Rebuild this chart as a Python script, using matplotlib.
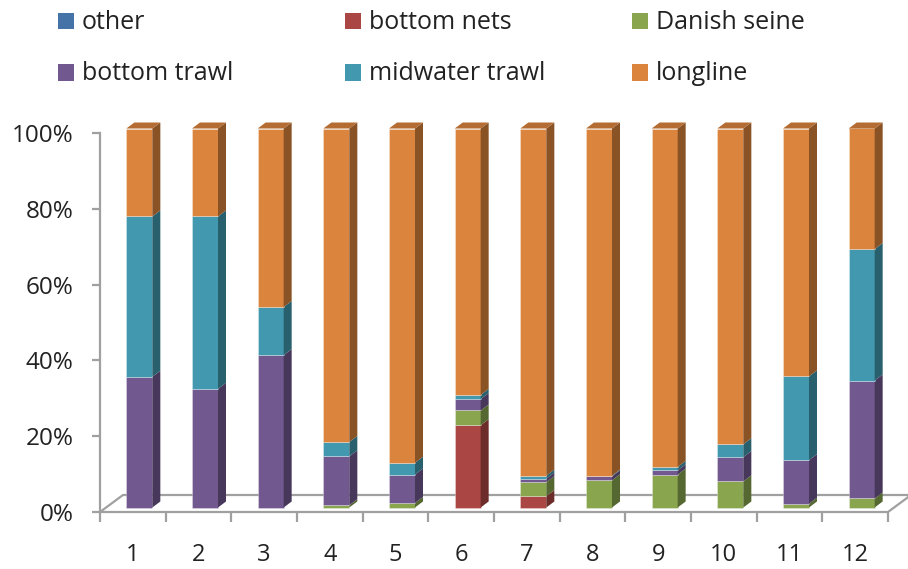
import matplotlib
matplotlib.use("Agg")
import matplotlib.pyplot as plt
from matplotlib.patches import Polygon, Rectangle
import numpy as np

plt.rcParams['font.family'] = ['Open Sans', 'DejaVu Sans']

# ---- data: share of each gear type per month (%) ----
months = ["1", "2", "3", "4", "5", "6", "7", "8", "9", "10", "11", "12"]
series_names = ["other", "bottom nets", "Danish seine", "bottom trawl",
                "midwater trawl", "longline"]
other = [0, 0, 0, 0, 0, 0, 0, 0, 0, 0, 0, 0]
bottom_nets = [0, 0, 0, 0, 0, 21.7, 3.0, 0, 0, 0, 0, 0]
danish_seine = [0, 0, 0, 0.6, 1.2, 3.9, 3.7, 7.2, 8.7, 6.9, 1.0, 2.4]
bottom_trawl = [34.5, 31.3, 40.2, 12.9, 7.5, 3.0, 0.9, 1.0, 1.1, 6.4, 11.5, 31.1]
midwater_trawl = [42.3, 45.5, 12.7, 3.8, 3.1, 1.1, 0.8, 0.2, 0.9, 3.4, 22.1, 34.7]
longline = [23.2, 23.2, 47.1, 82.7, 88.2, 70.3, 91.6, 91.6, 89.3, 83.3, 65.4, 31.8]
yticks = [0, 20, 40, 60, 80, 100]

colors = ["#4572A7", "#AA4643", "#89A54E", "#71588F", "#4198AF", "#DB843D"]

W, H, DPI = 908, 569, 100
fig = plt.figure(figsize=(W / DPI, H / DPI), dpi=DPI)
ax_l, ax_r, ax_top, ax_bot = 100, 888, 133, 512
ax = fig.add_axes([ax_l / W, (H - ax_bot) / H, (ax_r - ax_l) / W, (ax_bot - ax_top) / H])

n = len(months)
x = np.arange(1, n + 1)
ax.set_xlim(0.5, n + 0.5)
ax.set_ylim(0, 100)

# pixel -> data conversion for the pseudo-3D depth offsets
ppx = (ax_r - ax_l) / n
ppy = (ax_bot - ax_top) / 100.0
def dx(p):
    return p / ppx
def dy(p):
    return p / ppy

floor_dx, floor_dy = dx(23), dy(17)
front_dx, front_dy = dx(6.5), dy(4.5)
depth_dx, depth_dy = dx(8), dy(6)
bw = 26 / ppx

grey = "#A0A0A0"

# floor
floor = Polygon([(0.5, 0), (n + 0.5, 0), (n + 0.5 + floor_dx, floor_dy),
                 (0.5 + floor_dx, floor_dy)], closed=True,
                facecolor="white", edgecolor=grey, lw=1.6, clip_on=False, zorder=1)
ax.add_patch(floor)


def shade(c, f):
    r, g, b = matplotlib.colors.to_rgb(c)
    return (r * f, g * f, b * f)


data = [other, bottom_nets, danish_seine, bottom_trawl, midwater_trawl, longline]
bottoms = np.zeros(n)
for name, vals, col in zip(series_names, data, colors):
    vals = np.asarray(vals, dtype=float)
    ax.bar(x + front_dx, vals, width=bw, bottom=bottoms + front_dy, color=col,
           edgecolor=(1, 1, 1, 0.35), linewidth=0.6, label=name, zorder=3,
           clip_on=False)
    side_c = shade(col, 0.63)
    for xi, b, h in zip(x, bottoms, vals):
        if h <= 0:
            continue
        xr = xi + front_dx + bw / 2
        y0 = b + front_dy
        y1 = b + h + front_dy
        ax.add_patch(Polygon([(xr, y0), (xr + depth_dx, y0 + depth_dy),
                              (xr + depth_dx, y1 + depth_dy), (xr, y1)],
                             closed=True, facecolor=side_c, edgecolor="none",
                             zorder=3, clip_on=False))
    bottoms = bottoms + vals

# top faces of the longline segments
top_c = shade(colors[-1], 0.82)
for xi, t in zip(x, bottoms):
    xl = xi + front_dx - bw / 2
    xr = xi + front_dx + bw / 2
    yt = t + front_dy
    ax.add_patch(Polygon([(xl, yt), (xr, yt), (xr + depth_dx, yt + depth_dy),
                          (xl + depth_dx, yt + depth_dy)], closed=True,
                         facecolor=top_c, edgecolor="none", zorder=3, clip_on=False))

# axes styling
for s in ["top", "right", "bottom"]:
    ax.spines[s].set_visible(False)
ax.spines["left"].set_color(grey)
ax.spines["left"].set_linewidth(1.6)
ax.set_yticks(yticks)
ax.set_yticklabels([f"{v}%" for v in yticks])
ax.tick_params(axis="y", direction="out", length=6, width=1.6, color=grey,
               pad=13, labelsize=17.5, labelcolor="#222222")

ax.set_xticks(np.arange(0.5, n + 1.0, 1.0))
ax.set_xticklabels([])
ax.set_xticks(x, minor=True)
ax.set_xticklabels(months, minor=True)
ax.tick_params(axis="x", which="major", direction="out", length=7, width=1.6,
               color=grey)
ax.tick_params(axis="x", which="minor", length=0, pad=22, labelsize=17,
               labelcolor="#222222")
ax.patch.set_alpha(0)

# legend: two rows of three entries
handles = list(zip(series_names, colors))
col_x = [58, 345, 632]
row_y = [21, 72.5]
sq = 16
for i, (name, col) in enumerate(handles):
    r, c = divmod(i, 3)
    cx, cy = col_x[c], row_y[r]
    fig.patches.append(Rectangle((cx / W, (H - cy - sq / 2) / H), sq / W, sq / H,
                                 transform=fig.transFigure, facecolor=col,
                                 edgecolor="none"))
    fig.text((cx + 24) / W, (H - cy - 1.5) / H, name, fontsize=18, color="#222222",
             va="center", ha="left")

fig.savefig("out.png", dpi=DPI)
